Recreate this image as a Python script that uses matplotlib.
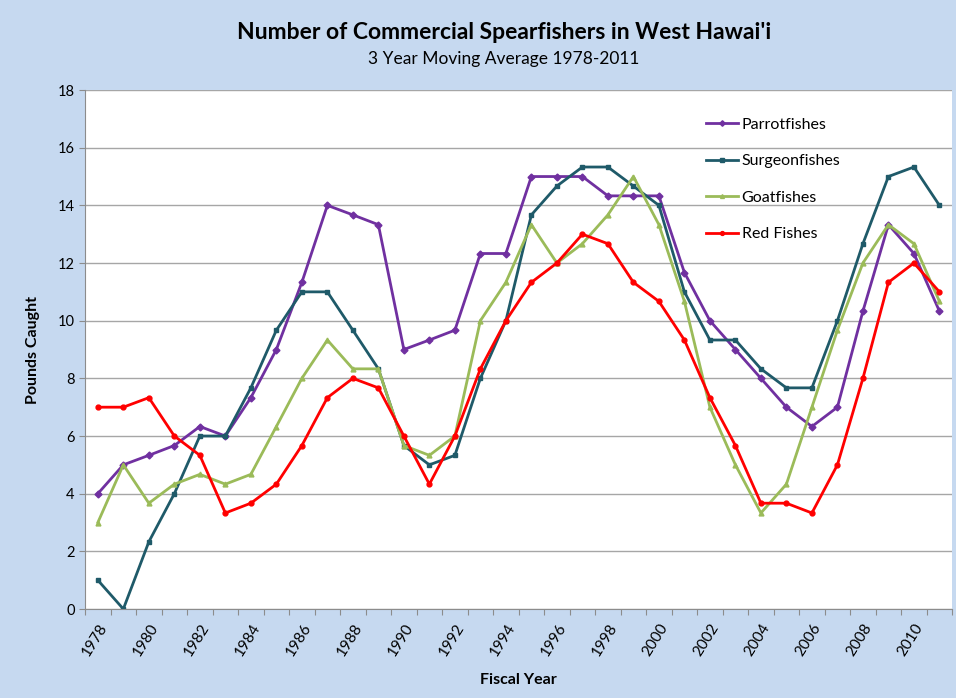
import matplotlib.pyplot as plt
import numpy as np

# Data: 3-year moving average of commercial spearfishers, West Hawai'i
years = list(range(1978, 2012))

parrotfishes = [4, 5, 5.33, 5.67, 6.33, 6, 7.33, 9, 11.33, 14, 13.67, 13.33,
                9, 9.33, 9.67, 12.33, 12.33, 15, 15, 15, 14.33, 14.33, 14.33,
                11.67, 10, 9, 8, 7, 6.33, 7, 10.33, 13.33, 12.33, 10.33]
surgeonfishes = [1, 0, 2.33, 4, 6, 6, 7.67, 9.67, 11, 11, 9.67, 8.33,
                 5.67, 5, 5.33, 8, 10, 13.67, 14.67, 15.33, 15.33, 14.67, 14,
                 11, 9.33, 9.33, 8.33, 7.67, 7.67, 10, 12.67, 15, 15.33, 14]
goatfishes = [3, 5, 3.67, 4.33, 4.67, 4.33, 4.67, 6.33, 8, 9.33, 8.33, 8.33,
              5.67, 5.33, 6, 10, 11.33, 13.33, 12, 12.67, 13.67, 15, 13.33,
              10.67, 7, 5, 3.33, 4.33, 7, 9.67, 12, 13.33, 12.67, 10.67]
red_fishes = [7, 7, 7.33, 6, 5.33, 3.33, 3.67, 4.33, 5.67, 7.33, 8, 7.67,
              6, 4.33, 6, 8.33, 10, 11.33, 12, 13, 12.67, 11.33, 10.67,
              9.33, 7.33, 5.67, 3.67, 3.67, 3.33, 5, 8, 11.33, 12, 11]

series = [
    ('Parrotfishes', parrotfishes, '#7030a0', 'D'),
    ('Surgeonfishes', surgeonfishes, '#1f5a69', 's'),
    ('Goatfishes', goatfishes, '#9bbb59', '^'),
    ('Red Fishes', red_fishes, '#ff0000', 'o'),
]

plt.rcParams['font.family'] = ['Lato', 'DejaVu Sans']

bg = '#c6d9f0'
fig = plt.figure(figsize=(9.56, 6.98), dpi=100, facecolor=bg)
ax = fig.add_axes([0.089, 0.1275, 0.907, 0.7435])
ax.set_facecolor('white')

x = np.arange(len(years))
for name, vals, color, marker in series:
    ax.plot(x, vals, color=color, marker=marker, markersize=3.5, linewidth=2,
            label=name)

ax.set_xlim(-0.5, len(years) - 0.5)
ax.set_ylim(0, 18)
ax.set_yticks(range(0, 19, 2))
ax.yaxis.grid(True, color='#a6a6a6', linewidth=1)
ax.set_axisbelow(True)

# category axis: ticks between categories, labels every other year
ax.set_xticks(np.arange(-0.5, len(years), 1), minor=False)
ax.set_xticklabels([])
ax.set_xticks(x[::2], minor=True)
ax.set_xticklabels([str(y) for y in years[::2]], minor=True, rotation=58,
                   ha='right', rotation_mode='anchor', fontsize=11)
ax.tick_params(axis='x', which='major', length=4, color='#8c8c8c')
ax.tick_params(axis='x', which='minor', length=0, pad=9)
ax.tick_params(axis='y', length=4, color='#8c8c8c', labelsize=10.5)

for s in ['top', 'right']:
    ax.spines[s].set_visible(False)
for s in ['left', 'bottom']:
    ax.spines[s].set_color('#8c8c8c')

ax.set_ylabel('Pounds Caught', fontsize=11.5, fontweight='bold', labelpad=13)
ax.set_xlabel('Fiscal Year', fontsize=11.5, fontweight='bold', labelpad=10)

fig.text(0.527, 0.954, "Number of Commercial Spearfishers in West Hawai'i",
         ha='center', va='center', fontsize=16.5, fontweight='bold')
fig.text(0.527, 0.916, '3 Year Moving Average 1978-2011',
         ha='center', va='center', fontsize=12.5)

ax.legend(loc='upper left', bbox_to_anchor=(0.7, 0.975), frameon=False,
          fontsize=11.5, handlelength=2, handletextpad=0.2, labelspacing=1.4,
          markerscale=0.8)

fig.savefig('out.png', dpi=100, facecolor=bg)
